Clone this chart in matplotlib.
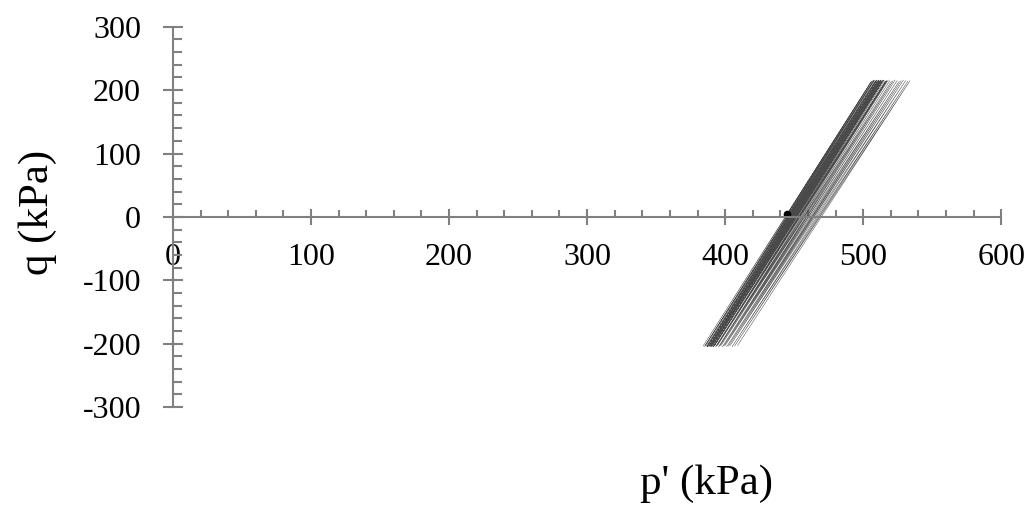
import matplotlib
matplotlib.use("Agg")
import matplotlib.pyplot as plt
from matplotlib.ticker import MultipleLocator

plt.rcParams['font.family'] = ['Liberation Serif', 'DejaVu Serif']
plt.rcParams['axes.unicode_minus'] = False

# cyclic stress path, turning points (kPa)
start_p, start_q = 445, 5
p_top = [506, 507, 508, 508.5, 509, 509.4, 509.8, 510.2, 510.6, 511, 511.3,
         511.6, 512, 512.4, 512.8, 513.2, 513.7, 514.2, 514.8, 515.5, 516.3,
         517.2, 518.2, 519.3, 520.5, 521.8, 523.2, 524.6, 526.1, 527.6,
         529.2, 530.8, 532.4, 534]
q_top = [214, 215, 216, 215, 214, 215, 216, 215, 214, 215, 216,
         215, 214, 215, 216, 215, 214, 215, 216, 215, 214,
         215, 216, 215, 214, 215, 216, 215, 214, 215,
         216, 215, 214, 215]
p_bot = [384, 385, 385.6, 386.2, 386.8, 387.2, 387.6, 388, 388.4, 388.8, 389.1,
         389.4, 389.8, 390.2, 390.6, 391, 391.4, 391.9, 392.4, 393, 393.7,
         394.4, 395.2, 396, 397, 398, 399, 400, 401.1, 402.3,
         403.6, 405, 406.8, 409]
q_bot = [-204, -205, -203, -204, -205, -204, -203, -205, -204, -203, -205,
         -204, -203, -205, -204, -203, -205, -204, -203, -205, -204,
         -203, -205, -204, -203, -205, -204, -203, -205, -204,
         -203, -205, -204, -203]

path_p = [start_p]
path_q = [start_q]
for pt, qt, pb, qb in zip(p_top, q_top, p_bot, q_bot):
    path_p += [pt, pb]
    path_q += [qt, qb]

fig = plt.figure(figsize=(10.3, 5.09), dpi=100)
ax = fig.add_axes([0.168, 0.2004, 0.804, 0.747])

ax.plot(path_p, path_q, color='#4a4a4a', lw=0.35)
ax.plot([start_p], [start_q], 'o', color='black', ms=4.5)

ax.set_xlim(0, 600)
ax.set_ylim(-300, 300)

grey = '#808080'
for side in ['top', 'right']:
    ax.spines[side].set_visible(False)
for side in ['left', 'bottom']:
    ax.spines[side].set_position(('data', 0))
    ax.spines[side].set_color(grey)
    ax.spines[side].set_linewidth(1.5)

ax.xaxis.set_major_locator(MultipleLocator(100))
ax.xaxis.set_minor_locator(MultipleLocator(20))
ax.yaxis.set_major_locator(MultipleLocator(100))
ax.yaxis.set_minor_locator(MultipleLocator(20))

ax.tick_params(axis='x', which='major', direction='inout', length=12, width=1.5,
               color=grey, labelsize=23, pad=13)
ax.tick_params(axis='x', which='minor', direction='in', length=5, width=1.5, color=grey)
ax.tick_params(axis='y', which='major', direction='inout', length=14, width=1.5,
               color=grey, labelsize=23, pad=16)
ax.tick_params(axis='y', which='minor', direction='in', length=6.5, width=1.5, color=grey)

fig.text(0.037, 0.582, 'q (kPa)', rotation=90, fontsize=31, ha='center', va='center')
fig.text(0.686, 0.049, "p' (kPa)", fontsize=31, ha='center', va='center')

fig.savefig('out.png', dpi=100)
